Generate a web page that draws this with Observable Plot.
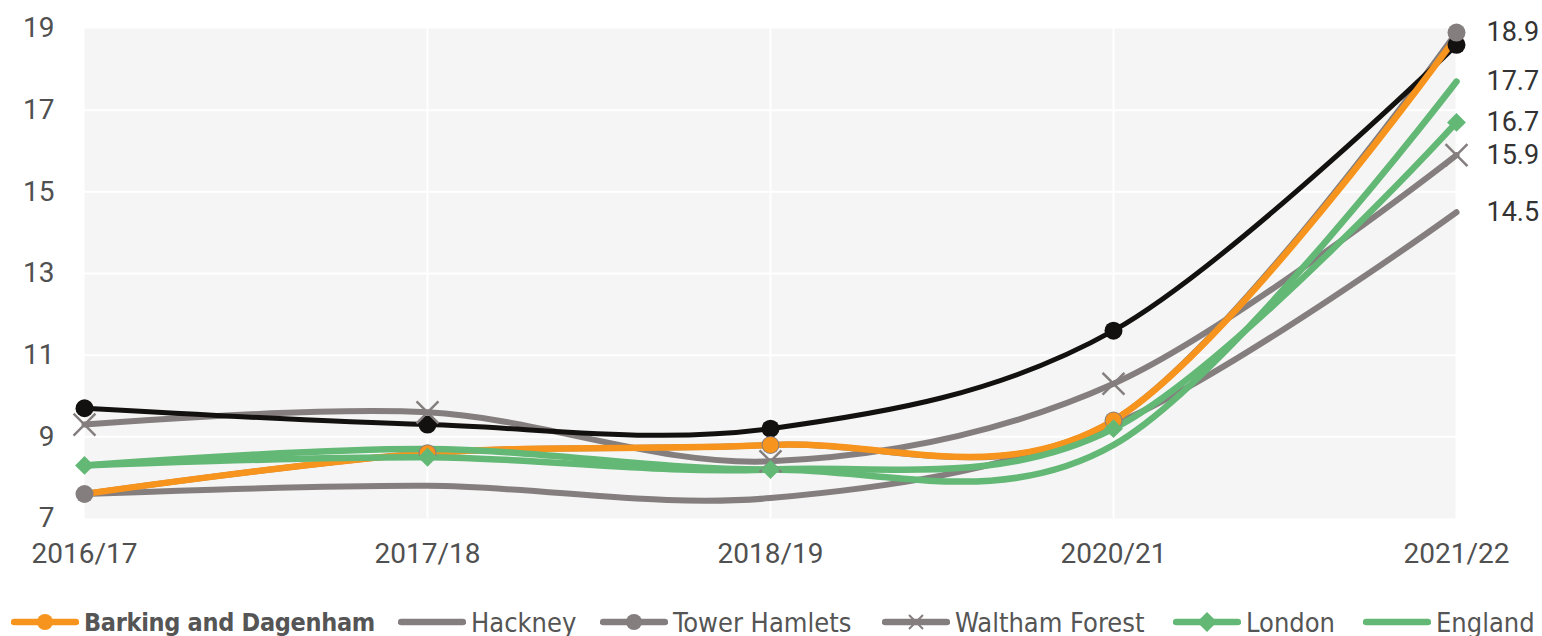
<!DOCTYPE html>
<html>
<head>
<meta charset="utf-8">
<script src="https://cdn.jsdelivr.net/npm/d3@7"></script>
<script src="https://cdn.jsdelivr.net/npm/@observablehq/plot@0.6"></script>
<style>
  html, body { margin: 0; padding: 0; background: #fff; }
  #wrap { position: relative; width: 1542px; height: 636px; }
  #legend { position: absolute; left: 0; top: 600px; width: 1542px; height: 44px; }
  .item { position: absolute; top: 0; height: 44px; display: flex; align-items: center;
          font-family: "DejaVu Sans Condensed", "Liberation Sans Narrow", "Roboto Condensed", "DejaVu Sans", sans-serif;
          font-stretch: condensed; font-size: 27px; color: #555; white-space: nowrap; }
  .item svg { margin-right: 5px; }
  .item.bold { font-weight: bold; font-size: 25px; letter-spacing: -0.3px; }
</style>
</head>
<body>
<div id="wrap"><div id="chart"></div><div id="legend"></div></div>
<script>
// ---- data ----
const years = ["2016/17", "2017/18", "2018/19", "2020/21", "2021/22"];
const seriesNames = ["Barking and Dagenham", "Hackney", "Tower Hamlets", "Waltham Forest", "London", "England", "Unlabelled"];
const barking       = [7.6, 8.6, 8.8, 9.4, 18.8];
const hackney       = [7.6, 7.8, 7.5, 9.3, 14.5];
const towerHamlets  = [7.6, 8.6, 8.8, 9.4, 18.9];
const walthamForest = [9.3, 9.6, 8.4, 10.3, 15.9];
const london        = [8.3, 8.5, 8.2, 9.2, 16.7];
const england       = [8.3, 8.7, 8.2, 8.8, 17.7];
const unlabelled    = [9.7, 9.3, 9.2, 11.6, 18.6];
const labelledSeries = ["Tower Hamlets", "England", "London", "Waltham Forest", "Hackney"];
const yTicks = [7, 9, 11, 13, 15, 17, 19];

const valuesList = [barking, hackney, towerHamlets, walthamForest, london, england, unlabelled];
const rows = seriesNames.flatMap((name, i) => years.map((yr, j) => ({series: name, year: yr, value: valuesList[i][j]})));
const of = name => rows.filter(d => d.series === name);

// ---- styles ----
const ORANGE = "#f7941d", GREY = "#857e7e", GREEN = "#63b876", BLACK = "#13110f";
const lineOpts = (color, w) => ({x: "year", y: "value", stroke: color, strokeWidth: w, curve: "cardinal", tension: 0, strokeLinecap: "round"});

const labelRows = rows.filter(d => d.year === years[years.length - 1] && labelledSeries.includes(d.series));

const chart = Plot.plot({
  width: 1542,
  height: 580,
  marginLeft: 84,
  marginRight: 86,
  marginTop: 28,
  marginBottom: 62,
  style: {fontFamily: "Roboto, 'Liberation Sans', sans-serif", fontSize: "28px", color: "#505050", background: "white", overflow: "visible"},
  x: {type: "point", domain: years, padding: 0, label: null, tickSize: 0, tickPadding: 25},
  y: {domain: [7, 19], ticks: yTicks, label: null, tickSize: 0, tickPadding: 30},
  marks: [
    Plot.frame({fill: "#f5f5f5", stroke: "none"}),
    Plot.ruleY(yTicks.slice(1, -1), {stroke: "white", strokeWidth: 2}),
    Plot.ruleX(years.slice(1), {stroke: "white", strokeWidth: 2}),
    Plot.line(of("Hackney"), lineOpts(GREY, 6)),
    Plot.line(of("Waltham Forest"), lineOpts(GREY, 6)),
    Plot.line(of("Tower Hamlets"), lineOpts(GREY, 6)),
    Plot.line(of("Unlabelled"), lineOpts(BLACK, 5)),
    Plot.line(of("Barking and Dagenham"), lineOpts(ORANGE, 6.5)),
    Plot.line(of("England"), lineOpts(GREEN, 6.5)),
    Plot.line(of("London"), lineOpts(GREEN, 6.5)),
    Plot.dot(of("Unlabelled"), {x: "year", y: "value", r: 9, fill: BLACK}),
    Plot.dot(of("Tower Hamlets"), {x: "year", y: "value", r: 9, fill: GREY}),
    Plot.dot(of("Barking and Dagenham").slice(1, 4), {x: "year", y: "value", r: 8, fill: ORANGE}),
    Plot.dot(of("Waltham Forest"), {x: "year", y: "value", r: 10, symbol: "times", stroke: GREY, strokeWidth: 2.5, fill: "none"}),
    Plot.dot(of("London"), {x: "year", y: "value", r: 8.5, symbol: "diamond2", fill: GREEN}),
    Plot.text(labelRows, {x: "year", y: "value", text: d => d.value.toFixed(1), dx: 30, textAnchor: "start", fill: "#333", fontSize: 27})
  ]
});
document.getElementById("chart").appendChild(chart);

// ---- legend ----
const legendItems = [
  {name: seriesNames[0], color: ORANGE, marker: "circle", left: 11, bold: true},
  {name: seriesNames[1], color: GREY, marker: null, left: 398},
  {name: seriesNames[2], color: GREY, marker: "circle", left: 600},
  {name: seriesNames[3], color: GREY, marker: "times", left: 882},
  {name: seriesNames[4], color: GREEN, marker: "diamond", left: 1173},
  {name: seriesNames[5], color: GREEN, marker: null, left: 1363}
];
const legend = document.getElementById("legend");
for (const it of legendItems) {
  const div = document.createElement("div");
  div.className = "item" + (it.bold ? " bold" : "");
  div.style.left = it.left + "px";
  let m = "";
  if (it.marker === "circle") m = `<circle cx="34" cy="22" r="8" fill="${it.color}"/>`;
  if (it.marker === "diamond") m = `<polygon points="34,12 44,22 34,32 24,22" fill="${it.color}"/>`;
  if (it.marker === "times") m = `<path d="M27,15L41,29M41,15L27,29" stroke="${it.color}" stroke-width="2"/>`;
  div.innerHTML = `<svg width="68" height="44"><line x1="3" y1="22" x2="65" y2="22" stroke="${it.color}" stroke-width="6.5" stroke-linecap="round"/>${m}</svg><span>${it.name}</span>`;
  legend.appendChild(div);
}
</script>
</body>
</html>
